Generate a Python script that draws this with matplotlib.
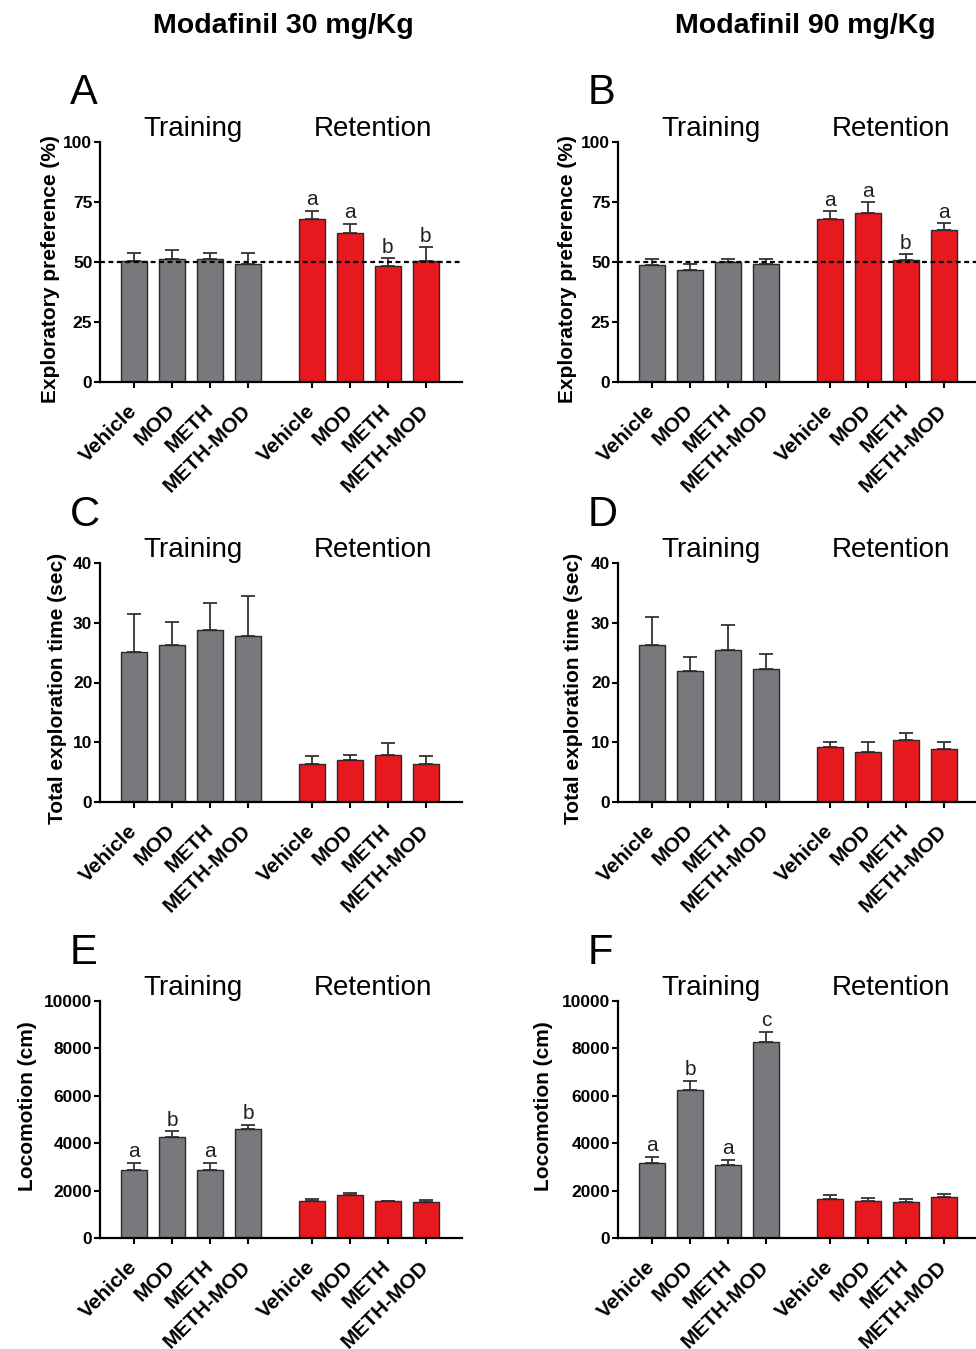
import numpy as np
import matplotlib.pyplot as plt
from matplotlib.transforms import ScaledTranslation, blended_transform_factory

plt.rcParams["font.family"] = ["Liberation Sans", "DejaVu Sans"]

groups = ["Vehicle", "MOD", "METH", "METH-MOD"]

# exploratory preference (%), mean and upper SEM
pref_30_train = [50.3, 51.2, 51.2, 49.0]
pref_30_train_err = [3.3, 3.8, 2.4, 4.6]
pref_30_ret = [68.0, 62.0, 48.3, 50.3]
pref_30_ret_err = [3.3, 3.9, 3.2, 5.9]
pref_90_train = [48.9, 46.8, 49.9, 49.3]
pref_90_train_err = [2.2, 2.2, 1.5, 1.8]
pref_90_ret = [68.0, 70.5, 51.0, 63.4]
pref_90_ret_err = [3.2, 4.4, 2.2, 2.8]

# total exploration time (sec)
time_30_train = [25.1, 26.3, 28.8, 27.8]
time_30_train_err = [6.3, 3.9, 4.5, 6.6]
time_30_ret = [6.4, 7.1, 7.9, 6.3]
time_30_ret_err = [1.3, 0.8, 1.9, 1.4]
time_90_train = [26.3, 22.0, 25.5, 22.3]
time_90_train_err = [4.6, 2.2, 4.1, 2.5]
time_90_ret = [9.2, 8.3, 10.4, 8.9]
time_90_ret_err = [0.9, 1.8, 1.1, 1.2]

# locomotion (cm)
loco_30_train = [2850, 4260, 2850, 4600]
loco_30_train_err = [320, 250, 320, 170]
loco_30_ret = [1545, 1795, 1545, 1515]
loco_30_ret_err = [110, 100, 30, 85]
loco_90_train = [3185, 6255, 3070, 8250]
loco_90_train_err = [240, 380, 225, 460]
loco_90_ret = [1655, 1570, 1530, 1740]
loco_90_ret_err = [140, 100, 110, 110]

letters_A = ["a", "a", "b", "b"]
letters_B = ["a", "a", "b", "a"]
letters_E = ["a", "b", "a", "b"]
letters_F = ["a", "b", "a", "c"]

GRAY = "#77797c"
RED = "#e8181f"
EDGE = "#2a2a2a"

W, H = 976, 1349
fig = plt.figure(figsize=(W / 100, H / 100), dpi=100)

x_train = np.arange(4)
x_ret = np.arange(4) + 4.68
x_all = np.concatenate([x_train, x_ret])

# (letter, left px, top px, bottom px, ylabel, ymax, yticks, train, train_err, ret, ret_err,
#  train letters, ret letters, chance line, label x, label y)
panels = [
    ("A", 100, 142, 382, "Exploratory preference (%)", 100, [0, 25, 50, 75, 100],
     pref_30_train, pref_30_train_err, pref_30_ret, pref_30_ret_err, None, letters_A, True, -0.110, 0.47),
    ("B", 618, 142, 382, "Exploratory preference (%)", 100, [0, 25, 50, 75, 100],
     pref_90_train, pref_90_train_err, pref_90_ret, pref_90_ret_err, None, letters_B, True, -0.113, 0.47),
    ("C", 100, 563, 802, "Total exploration time (sec)", 40, [0, 10, 20, 30, 40],
     time_30_train, time_30_train_err, time_30_ret, time_30_ret_err, None, None, False, -0.091, 0.477),
    ("D", 618, 563, 802, "Total exploration time (sec)", 40, [0, 10, 20, 30, 40],
     time_90_train, time_90_train_err, time_90_ret, time_90_ret_err, None, None, False, -0.097, 0.477),
    ("E", 100, 1001, 1238, "Locomotion (cm)", 10000, [0, 2000, 4000, 6000, 8000, 10000],
     loco_30_train, loco_30_train_err, loco_30_ret, loco_30_ret_err, letters_E, None, False, -0.174, 0.557),
    ("F", 618, 1001, 1238, "Locomotion (cm)", 10000, [0, 2000, 4000, 6000, 8000, 10000],
     loco_90_train, loco_90_train_err, loco_90_ret, loco_90_ret_err, letters_F, None, False, -0.180, 0.557),
]

ax_w = 362
for (tag, left, top, bottom, ylabel, ymax, yticks, tr, tr_e, rt, rt_e,
     tr_let, rt_let, chance, lx, ly) in panels:
    ax = fig.add_axes([left / W, 1 - bottom / H, ax_w / W, (bottom - top) / H])
    for xs, vals, errs, col, lets in [(x_train, tr, tr_e, GRAY, tr_let),
                                      (x_ret, rt, rt_e, RED, rt_let)]:
        ax.bar(xs, vals, width=0.68, color=col, edgecolor=EDGE, linewidth=1.0, zorder=2)
        ax.errorbar(xs, vals, yerr=[np.zeros(4), errs], fmt="none", ecolor="#333333",
                    elinewidth=1.3, capsize=5, capthick=1.3, zorder=1)
        if lets:
            for x, v, e, s in zip(xs, vals, errs, lets):
                ax.annotate(s, xy=(x, v + e), xytext=(0, 4), textcoords="offset points",
                            ha="center", va="baseline", fontsize=15, color="#222222")
    if chance:
        ax.axhline(50, color="black", lw=1.6, ls=(0, (2.2, 1.6)), zorder=3)

    ax.set_xlim(-0.895, 8.63)
    ax.set_ylim(0, ymax)
    ax.set_yticks(yticks)
    ax.set_yticklabels([str(t) for t in yticks], fontsize=12.5, fontweight="bold")
    ax.set_xticks(x_all)
    ax.set_xticklabels(groups * 2, fontsize=15, fontweight="bold", rotation=45,
                       ha="right", va="center", rotation_mode="anchor")
    off = ScaledTranslation(5 / 72, 0, fig.dpi_scale_trans)
    for lab in ax.get_xticklabels():
        lab.set_transform(lab.get_transform() + off)
    ax.tick_params(axis="x", length=4.5, width=1.5, pad=14)
    ax.tick_params(axis="y", length=4, width=1.5, pad=1.5)
    for s in ["top", "right"]:
        ax.spines[s].set_visible(False)
    for s in ["left", "bottom"]:
        ax.spines[s].set_linewidth(1.6)

    ax.set_ylabel(ylabel, fontsize=15, fontweight="bold")
    ax.yaxis.set_label_coords(lx, ly)

    trans = blended_transform_factory(ax.transData, ax.transAxes)
    ax.annotate("Training", xy=(x_train.mean() + 0.05, 1), xycoords=trans,
                xytext=(0, 4), textcoords="offset points", ha="center", va="baseline", fontsize=20)
    ax.annotate("Retention", xy=(x_ret.mean() + 0.1, 1), xycoords=trans,
                xytext=(0, 4), textcoords="offset points", ha="center", va="baseline", fontsize=20)
    ax.annotate(tag, xy=(0, 1), xycoords="axes fraction", xytext=(-22, 27),
                textcoords="offset points", ha="left", va="baseline", fontsize=30)

fig.text(283 / W, 1 - 33 / H, "Modafinil 30 mg/Kg", ha="center", va="baseline",
         fontsize=20.5, fontweight="bold")
fig.text(805 / W, 1 - 33 / H, "Modafinil 90 mg/Kg", ha="center", va="baseline",
         fontsize=20.5, fontweight="bold")

fig.savefig("out.png", dpi=100)
